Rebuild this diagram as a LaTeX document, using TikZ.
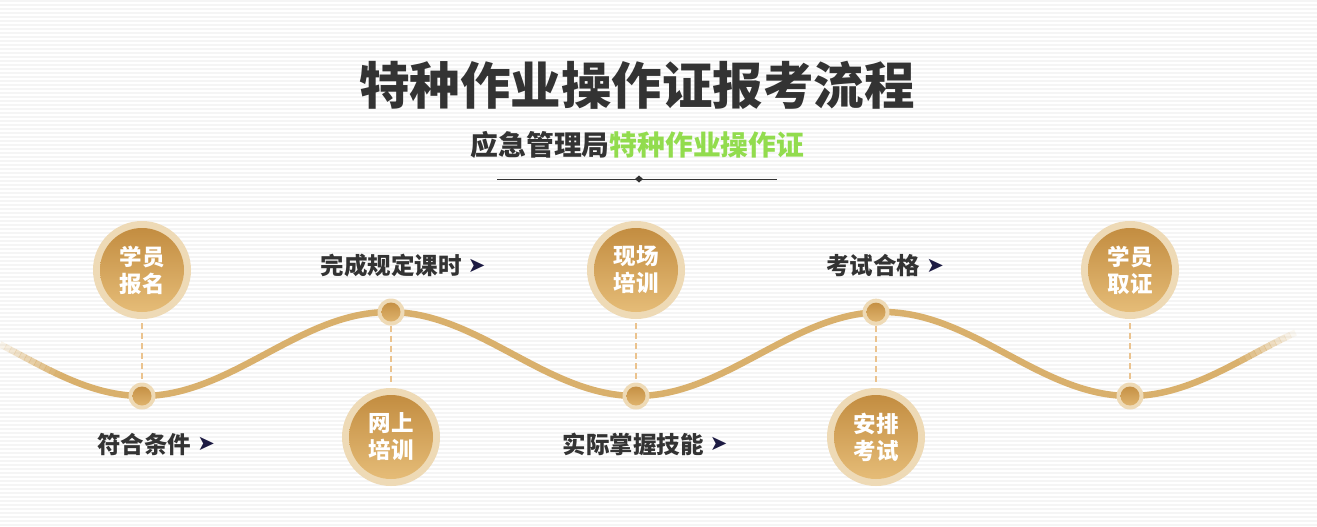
\documentclass[tikz,border=0pt]{standalone}
\usepackage{fontspec}
\newfontfamily\cjk{Noto Sans CJK SC}
\newfontfamily\symfont{DejaVu Sans}
\usetikzlibrary{positioning}

\definecolor{titlegray}{HTML}{333333}
\definecolor{subgreen}{HTML}{92DC4E}
\definecolor{wavegold}{HTML}{D9B06C}
\definecolor{ringgold}{HTML}{EEDAB6}
\definecolor{darkgold}{HTML}{C0893C}
\definecolor{lightgold}{HTML}{E8C07C}
\definecolor{dashgold}{HTML}{EBC38E}
\definecolor{arrownavy}{HTML}{1C1A42}

\tikzset{
  stripe/.style={draw=black!4, line width=1.6pt},
  wave/.style={draw=wavegold, line width=6.5pt},
  stepcircle/.style={circle, minimum size=98pt, inner sep=0pt, fill=ringgold,
    text=white, align=center, font=\cjk\bfseries\fontsize{22.5}{27}\selectfont,
    path picture={\shade[top color=darkgold, bottom color=lightgold]
      (path picture bounding box.center) circle (42pt);}},
  wavedot/.style={circle, minimum size=27pt, inner sep=0pt, fill=ringgold,
    path picture={\shade[top color=darkgold, bottom color=lightgold!90!darkgold]
      (path picture bounding box.center) circle (9.5pt);}},
  guide/.style={draw=dashgold, line width=1.4pt, dash pattern=on 6pt off 4pt},
  steplabel/.style={text=titlegray, inner sep=0pt, font=\cjk\bfseries\fontsize{23.5}{27}\selectfont},
  tip/.style={text=arrownavy, inner sep=0pt, font=\symfont\fontsize{21}{21}\selectfont},
}

\begin{document}
\begin{tikzpicture}[x=1pt, y=-1pt,
  declare function={wy(\t)=354+42*cos(0.7287449*(\t-142));}]
\useasboundingbox (0,0) rectangle (1317,527);
\fill[white] (0,0) rectangle (1317,527);
\foreach \yy in {1,5,...,525}
  \draw[stripe] (0,\yy) -- (1317,\yy);

% title block
\node[text=titlegray, font=\cjk\bfseries\fontsize{50.5}{56}\selectfont] (title) at (637,85) {特种作业操作证报考流程};
\node[font=\cjk\bfseries\fontsize{27.8}{32}\selectfont] (subtitle) at (637.5,145)
  {\textcolor{titlegray}{应急管理局}\textcolor{subgreen}{特种作业操作证}};
\coordinate (ruleL) at (497,179);
\coordinate (ruleR) at (777,179);
\draw[titlegray, line width=1pt] (ruleL) -- (ruleR);
\fill[titlegray] (639,179) +(-4,0) -- +(0,-3.5) -- +(4,0) -- +(0,3.5) -- cycle;

% wave
\draw[wave] plot[domain=60:1240, samples=240] (\x,{wy(\x)});
\foreach \a in {0,...,11}{
  \pgfmathsetmacro{\op}{0.15+0.8*\a/11}
  \draw[wave, opacity=\op] plot[domain=5*\a:5*\a+5.5, samples=4] (\x,{wy(\x)});
  \pgfmathsetmacro{\opr}{0.92*(11-\a)/11}
  \draw[wave, opacity=\opr] plot[domain=1240+5*\a:1245.5+5*\a, samples=4] (\x,{wy(\x)});
}

% dots on the wave
\node[wavedot] (d1) at (142,{wy(142)}) {};
\node[wavedot] (d2) at (391,{wy(391)}) {};
\node[wavedot] (d3) at (636,{wy(636)}) {};
\node[wavedot] (d4) at (876,{wy(876)}) {};
\node[wavedot] (d5) at (1130,{wy(1130)}) {};

% step circles
\node[stepcircle] (baoming) at (142,270) {学员\\报名};
\node[stepcircle] (wangshang) at (391,437) {网上\\培训};
\node[stepcircle] (xianchang) at (636,270) {现场\\培训};
\node[stepcircle] (anpai) at (876,437) {安排\\考试};
\node[stepcircle] (quzheng) at (1130,270) {学员\\取证};

% guides
\draw[guide] ([yshift=-4pt]baoming.south) -- (d1.north);
\draw[guide] (d2.south) -- ([yshift=4pt]wangshang.north);
\draw[guide] ([yshift=-4pt]xianchang.south) -- (d3.north);
\draw[guide] (d4.south) -- ([yshift=4pt]anpai.north);
\draw[guide] ([yshift=-4pt]quzheng.south) -- (d5.north);

% labels
\node[steplabel] (keshi) at (391,266) {完成规定课时};
\node[tip, right=6pt of keshi] (keshitip) {➤};
\node[steplabel] (hege) at (873,266) {考试合格};
\node[tip, right=6pt of hege] (hegetip) {➤};
\node[steplabel] (tiaojian) at (144,444) {符合条件};
\node[tip, right=6pt of tiaojian] (tiaojiantip) {➤};
\node[steplabel] (jineng) at (633,444) {实际掌握技能};
\node[tip, right=6pt of jineng] (jinengtip) {➤};
\end{tikzpicture}
\end{document}
